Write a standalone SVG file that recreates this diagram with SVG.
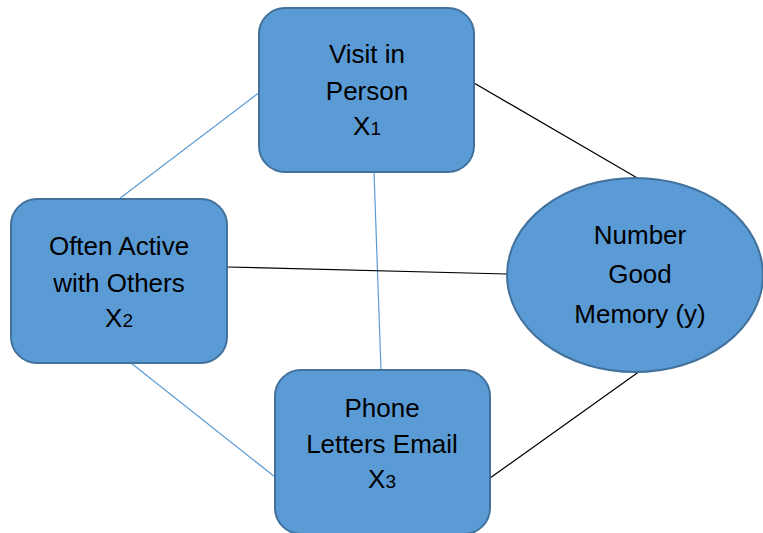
<svg xmlns="http://www.w3.org/2000/svg" width="763" height="533" viewBox="0 0 763 533">
<style>
.node{fill:#5b9bd5;stroke:#41719c;stroke-width:2}
.lbl{font-family:"Liberation Sans",Arial,sans-serif;font-size:26px;fill:#000;text-anchor:middle}
.sub{font-size:19px}
.blue{stroke:#5b9bd5;stroke-width:1.2;fill:none}
.blk{stroke:#000;stroke-width:1.2;fill:none}
</style>
<rect width="763" height="533" fill="#fff"/>
<g id="connectors">
<line class="blue" x1="260" y1="92" x2="119" y2="199"/>
<line class="blue" x1="374" y1="172" x2="381" y2="370"/>
<line class="blue" x1="131" y1="363" x2="275" y2="477"/>
<line class="blk" x1="474" y1="83" x2="639" y2="179"/>
<line class="blk" x1="227" y1="267" x2="507" y2="274"/>
<line class="blk" x1="490" y1="478" x2="640" y2="371"/>
</g>
<g id="visit">
<rect class="node" x="259" y="8" width="215" height="164" rx="26"/>
<text class="lbl" x="367" y="63">Visit in</text>
<text class="lbl" x="367" y="100">Person</text>
<text class="lbl" x="367" y="135">X<tspan class="sub">1</tspan></text>
</g>
<g id="active">
<rect class="node" x="11" y="199" width="216" height="164" rx="26"/>
<text class="lbl" x="119" y="255">Often Active</text>
<text class="lbl" x="119" y="292">with Others</text>
<text class="lbl" x="119" y="327">X<tspan class="sub">2</tspan></text>
</g>
<g id="phone">
<rect class="node" x="275" y="370" width="215" height="164" rx="26"/>
<text class="lbl" x="382" y="417">Phone</text>
<text class="lbl" x="382" y="453">Letters Email</text>
<text class="lbl" x="382" y="488">X<tspan class="sub">3</tspan></text>
</g>
<g id="memory">
<ellipse class="node" cx="635" cy="275" rx="128" ry="97"/>
<text class="lbl" x="640" y="244">Number</text>
<text class="lbl" x="640" y="283">Good</text>
<text class="lbl" x="640" y="323">Memory (y)</text>
</g>
</svg>
